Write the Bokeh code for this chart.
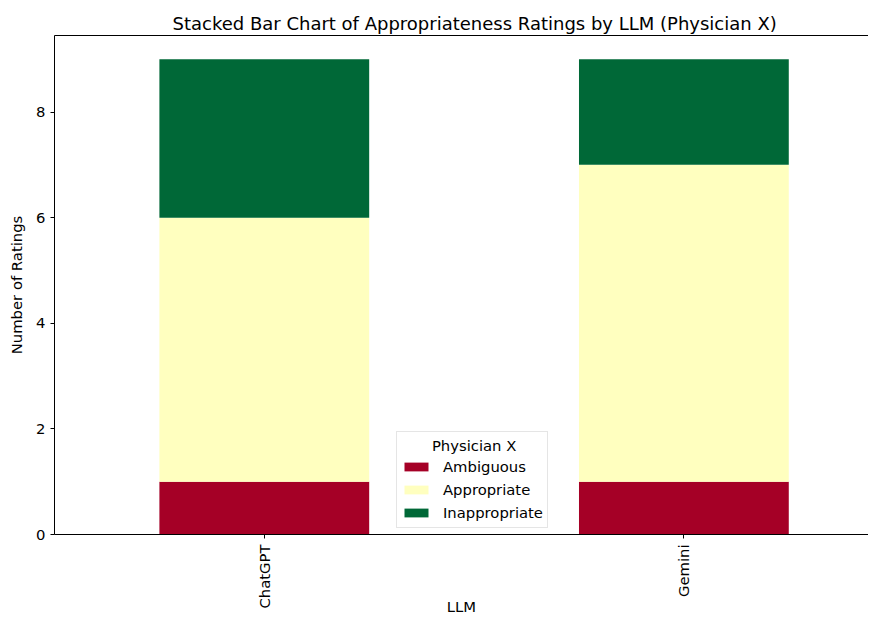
import math
from bokeh.plotting import figure
from bokeh.models import ColumnDataSource, FixedTicker, LinearAxis, Range1d, Legend, LegendItem, Label
from bokeh.embed import file_html
from bokeh.resources import INLINE

llms = ["ChatGPT", "Gemini"]
categories = ["Ambiguous", "Appropriate", "Inappropriate"]
ambiguous = [1, 1]
appropriate = [5, 6]
inappropriate = [3, 2]
colors = ["#a50026", "#ffffbf", "#006837"]
y_ticks = [0, 2, 4, 6, 8]
legend_title = "Physician X"

xs = list(range(len(llms)))
source = ColumnDataSource(dict(x=xs, Ambiguous=ambiguous, Appropriate=appropriate, Inappropriate=inappropriate))

total_max = max(a + b + c for a, b, c in zip(ambiguous, appropriate, inappropriate))

FONT = "DejaVu Sans"
FS = "14.8px"
p = figure(width=868, height=617, output_backend="svg", toolbar_location=None,
           x_range=Range1d(-0.5, 1.44), y_range=Range1d(0, total_max * 1.05),
           title="Stacked Bar Chart of Appropriateness Ratings by LLM (Physician X)",
           min_border_left=54, min_border_right=0, min_border_top=35, min_border_bottom=0)
p.outline_line_color = None
p.grid.visible = False
p.background_fill_color = "white"
p.border_fill_color = "white"

p.title.text_font = FONT
p.title.text_font_size = "18px"
p.title.text_font_style = "normal"
p.title.align = "left"
p.title.offset = 118
p.title.standoff = 4
p.title.text_color = "black"

renderers = p.vbar_stack(categories, x="x", width=0.5, color=colors, line_color=None, source=source)

for ax in (p.xaxis[0], p.yaxis[0]):
    ax.axis_line_color = "black"
    ax.major_tick_line_color = "black"
    ax.major_tick_out = 4
    ax.major_tick_in = 0
    ax.minor_tick_line_color = None
    ax.major_label_text_font = FONT
    ax.major_label_text_font_size = FS
    ax.major_label_text_color = "black"
    ax.axis_label_text_font = FONT
    ax.axis_label_text_font_size = FS
    ax.axis_label_text_font_style = "normal"
    ax.axis_label_text_color = "black"

p.xaxis.ticker = FixedTicker(ticks=xs)
p.xaxis.major_label_overrides = {i: n for i, n in enumerate(llms)}
p.xaxis.major_label_orientation = math.pi / 2
p.xaxis.axis_label = "LLM"
p.xaxis.major_label_standoff = 6
p.xaxis.axis_label_standoff = -14

p.yaxis.ticker = FixedTicker(ticks=y_ticks)
p.yaxis.axis_label = "Number of Ratings"
p.yaxis.major_label_standoff = 5
p.yaxis.axis_label_standoff = 8

top = LinearAxis(ticker=FixedTicker(ticks=[]), major_label_text_font_size="0px",
                 major_tick_out=0, major_tick_in=0, minor_tick_out=0, minor_tick_in=0,
                 axis_line_color="black")
p.add_layout(top, "above")

legend = Legend(items=[LegendItem(label=c, renderers=[r]) for c, r in zip(categories, renderers)],
                location=(342, 6), title="\u00a0")
legend.title_text_font = FONT
legend.title_text_font_size = FS
legend.title_text_font_style = "normal"
legend.title_standoff = 3
legend.label_text_font = FONT
legend.label_text_font_size = FS
legend.label_text_color = "black"
legend.glyph_width = 30
legend.glyph_height = 11
legend.label_height = 21
legend.spacing = 2
legend.padding = 4
legend.margin = 0
legend.border_line_color = "#cccccc"
legend.background_fill_alpha = 0
legend.label_standoff = 12
p.add_layout(legend, "center")

title_label = Label(x=0.5, y=1.68, text=legend_title, text_align="center", text_baseline="middle",
                    text_font=FONT, text_font_size=FS, text_color="black", level="overlay")
p.add_layout(title_label)

open("out.html", "w").write(file_html(p, INLINE))
